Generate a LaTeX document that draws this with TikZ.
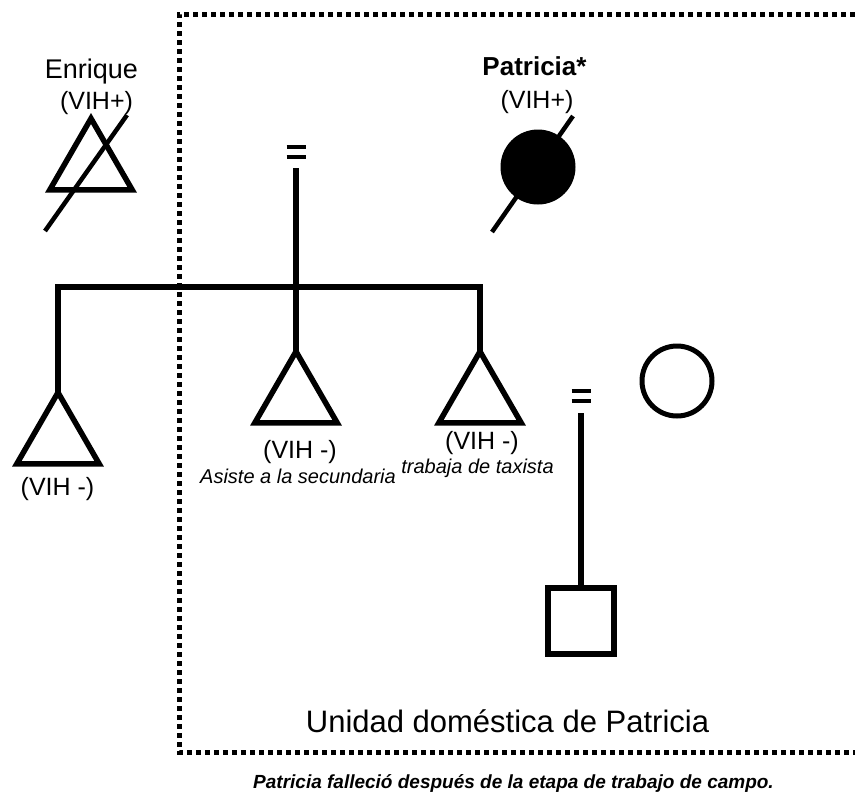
\documentclass[tikz,border=0pt]{standalone}
\usepackage{fontspec}
\setmainfont{Liberation Sans}
\usetikzlibrary{shapes.geometric}
\begin{document}
\begin{tikzpicture}[x=1pt,y=-1pt,
  person/.style={draw, inner sep=0pt, outer sep=0pt},
  male/.style={person, line width=5.5pt, regular polygon, regular polygon sides=3, minimum size=95pt},
  female/.style={person, line width=5pt, circle, minimum size=70pt},
  child/.style={person, line width=5.5pt, rectangle, minimum size=66pt},
  link/.style={line width=5.5pt},
  slash/.style={line width=4.5pt},
  bar/.style={line width=4pt},
  eqsign/.style={inner sep=0pt, outer sep=0pt, minimum width=22pt, minimum height=#1},
  household/.style={line width=5pt, dash pattern=on 5pt off 4pt},
  lbl/.style={inner sep=0pt, anchor=base, font=\fontsize{25}{30}\selectfont},
  note/.style={inner sep=0pt, anchor=base, font=\fontsize{20}{24}\selectfont\itshape},
]
\useasboundingbox (0,0) rectangle (855,796);

% household boundary (open on the right)
\draw[household] (855,14) -- (179,14) -- (179,752) -- (855,752);

% people
\node[male] (enr) at (91,166) {};
\node[female, fill=black] (pat) at (538,167) {};
\node[male] (sa) at (58,440) {};
\node[male] (sb) at (296,399) {};
\node[male] (sc) at (480,399) {};
\node[female] (wife) at (677,381) {};
\node[child] (grand) at (581,621) {};

% deceased marks
\draw[slash] (45,231) -- (127,115);
\draw[slash] (492,232) -- (573,116);

% marriage signs
\node[eqsign=32pt] (eqa) at (296,152) {};
\node[eqsign=34pt] (eqb) at (581,396) {};
\foreach \e in {eqa,eqb}{
  \draw[bar] ([xshift=-9.5pt,yshift=5pt]\e.center) -- ([xshift=9.5pt,yshift=5pt]\e.center);
  \draw[bar] ([xshift=-9.5pt,yshift=-5pt]\e.center) -- ([xshift=9.5pt,yshift=-5pt]\e.center);
}

% descent lines
\coordinate (sib) at (296,287);
\draw[link] (eqa.south) -- (sb.corner 1);
\draw[link] (sa.corner 1) |- (sib) -| (sc.corner 1);
\draw[link] (eqb.south) -- (grand.north);

% labels
\node[lbl, font=\fontsize{27}{32}\selectfont] (tenr) at (91.5,78) {Enrique};
\node[lbl] (venr) at (96.5,109) {(VIH+)};
\node[lbl, font=\fontsize{26}{31}\selectfont\bfseries] (tpat) at (534.5,75) {Patricia*};
\node[lbl] (vpat) at (537,108) {(VIH+)};
\node[lbl] (vsa) at (57.5,495) {(VIH -)};
\node[lbl] (vsb) at (300,458) {(VIH -)};
\node[lbl] (vsc) at (482,449) {(VIH -)};
\node[note] (nsb) at (298,483) {Asiste a la secundaria};
\node[note] (nsc) at (477.5,473) {trabaja de taxista};
\node[lbl, font=\fontsize{31}{36}\selectfont] (unit) at (507.5,732) {Unidad doméstica de Patricia};
\node[lbl, font=\fontsize{19}{23}\selectfont\bfseries\itshape] (foot) at (513.5,788) {Patricia falleció después de la etapa de trabajo de campo.};
\end{tikzpicture}
\end{document}
